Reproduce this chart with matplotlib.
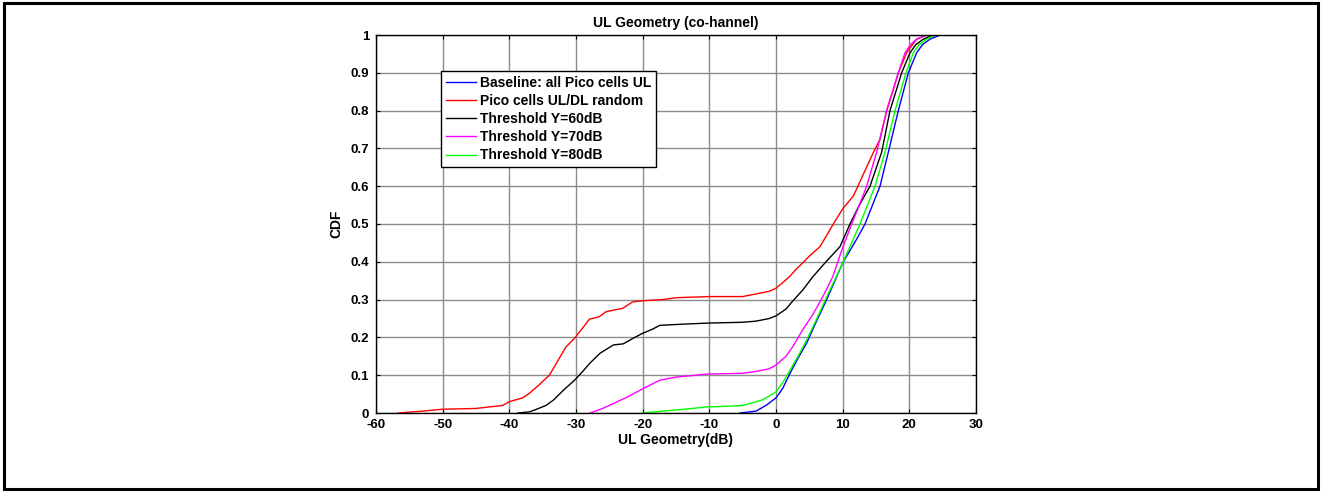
import matplotlib
matplotlib.use("Agg")
import matplotlib.pyplot as plt
from matplotlib.patches import Rectangle

plt.rcParams['font.family'] = ['Liberation Sans', 'DejaVu Sans']
plt.rcParams['font.weight'] = 'bold'
plt.rcParams['axes.unicode_minus'] = False

title = "UL Geometry (co-hannel)"
xlabel = "UL Geometry(dB)"
ylabel = "CDF"

labels = ["Baseline: all Pico cells UL", "Pico cells UL/DL random",
          "Threshold Y=60dB", "Threshold Y=70dB", "Threshold Y=80dB"]
colors = ["#0000ff", "#ff0000", "#000000", "#ff00ff", "#00ff00"]

blue_x = [-5.4, -3, -1.5, 0, 1, 2.1, 3.3, 4.6, 6, 7.6, 10, 12.1, 13.35, 15.6, 16.85, 18.35, 19.85, 21.1, 22, 23.1, 24.6]
blue_y = [0, 0.005, 0.02, 0.04, 0.065, 0.105, 0.145, 0.185, 0.24, 0.3, 0.397, 0.46, 0.5, 0.6, 0.69, 0.8, 0.9, 0.953, 0.975, 0.989, 1.0]

red_x = [-56.7, -53, -50, -45, -42.5, -41, -40, -38, -37, -35.5, -34, -33, -31.5, -30.2, -29, -28, -26.5, -25.5, -23, -21.5, -20, -17, -15, -10, -5, -3, -1, 0, 1, 2, 3, 4, 5, 6.6, 8.6, 10, 11.6, 12.8, 14.6, 15.6, 16.6, 17.5, 18.35, 19.6, 20.5, 21.1, 22.6]
red_y = [0, 0.005, 0.01, 0.012, 0.017, 0.02, 0.03, 0.04, 0.052, 0.075, 0.1, 0.13, 0.175, 0.198, 0.225, 0.248, 0.255, 0.268, 0.277, 0.294, 0.297, 0.30, 0.305, 0.308, 0.308, 0.315, 0.322, 0.33, 0.345, 0.36, 0.38, 0.397, 0.415, 0.44, 0.5, 0.54, 0.574, 0.62, 0.689, 0.724, 0.8, 0.85, 0.9, 0.953, 0.975, 0.989, 1.0]

t60_x = [-38.7, -37, -36.2, -34.5, -33.4, -31.9, -30.2, -29, -27.9, -26.4, -24.4, -22.9, -21.5, -20.1, -18.5, -17.4, -14, -10, -5, -3, -1, 0, 1.5, 2.5, 4, 5.5, 7.5, 9.6, 11.1, 12.5, 14.1, 15.85, 17.1, 18.85, 20.1, 21, 22.1, 23.6]
t60_y = [0, 0.003, 0.008, 0.02, 0.034, 0.06, 0.087, 0.11, 0.132, 0.158, 0.18, 0.183, 0.197, 0.21, 0.222, 0.232, 0.235, 0.238, 0.24, 0.243, 0.25, 0.257, 0.275, 0.296, 0.325, 0.36, 0.4, 0.44, 0.5, 0.55, 0.6, 0.69, 0.8, 0.9, 0.953, 0.975, 0.989, 1.0]

t70_x = [-27.9, -26, -24, -22, -20.1, -17.4, -15, -12, -10.4, -5, -3, -1, 0, 1.5, 2.5, 4, 5.5, 7, 8.5, 9.85, 11.35, 12.5, 13.6, 15.1, 16.6, 18.35, 19.35, 20.2, 21.1, 22.6]
t70_y = [0, 0.012, 0.028, 0.045, 0.063, 0.087, 0.095, 0.1, 0.103, 0.105, 0.11, 0.117, 0.127, 0.15, 0.175, 0.22, 0.26, 0.307, 0.36, 0.43, 0.5, 0.55, 0.6, 0.69, 0.8, 0.9, 0.953, 0.975, 0.989, 1.0]

t80_x = [-20, -17, -15, -12, -10.4, -7, -5, -3.75, -2, -1, 0, 1, 2.1, 3.3, 4.6, 6, 7.6, 10, 11.35, 12.6, 14.85, 16.35, 17.85, 19.5, 20.6, 21.5, 22.6, 23.85]
t80_y = [0, 0.005, 0.008, 0.013, 0.016, 0.018, 0.02, 0.026, 0.035, 0.045, 0.056, 0.08, 0.113, 0.15, 0.193, 0.245, 0.307, 0.397, 0.45, 0.5, 0.6, 0.69, 0.8, 0.9, 0.953, 0.975, 0.989, 1.0]

xticks = [-60, -50, -40, -30, -20, -10, 0, 10, 20, 30]
yticks = [0, 0.1, 0.2, 0.3, 0.4, 0.5, 0.6, 0.7, 0.8, 0.9, 1]
yticklabels = ["0", "0.1", "0.2", "0.3", "0.4", "0.5", "0.6", "0.7", "0.8", "0.9", "1"]

series = [(blue_x, blue_y), (red_x, red_y), (t60_x, t60_y), (t70_x, t70_y), (t80_x, t80_y)]

W, H = 1321, 492
fig = plt.figure(figsize=(W / 100, H / 100), dpi=100)
ax = fig.add_axes([376 / W, 1 - 413 / H, 600 / W, 378 / H])

for (xs, ys), c, lab in zip(series, colors, labels):
    ax.plot(xs, ys, color=c, lw=1.0, label=lab)

ax.set_xlim(-60, 30)
ax.set_ylim(0, 1)
ax.set_xticks(xticks)
ax.set_yticks(yticks)
ax.set_yticklabels(yticklabels)
ax.grid(True, color='#8c8c8c', lw=1.0, linestyle='-')
ax.set_axisbelow(True)
ax.tick_params(direction='in', top=True, right=True, length=3, labelsize=9.5)
ax.tick_params(axis='x', pad=4)
ax.tick_params(axis='y', pad=5)
for lab in ax.get_xticklabels() + ax.get_yticklabels():
    lab.set_fontweight('bold')
for s in ax.spines.values():
    s.set_linewidth(1.0)

ax.set_title(title, fontsize=10, fontweight='bold', pad=6)
ax.set_xlabel(xlabel, fontsize=10, fontweight='bold', labelpad=1.5)
ax.set_ylabel(ylabel, fontsize=10, fontweight='bold', labelpad=5)

leg = ax.legend(loc='upper left', bbox_to_anchor=(0.108, 0.905), fontsize=10,
                frameon=True, fancybox=False, edgecolor='black', framealpha=1,
                handlelength=2.2, handletextpad=0.3, borderpad=0.35, labelspacing=0.3,
                borderaxespad=0)
leg.get_frame().set_linewidth(1.0)
for t in leg.get_texts():
    t.set_fontweight('bold')

fig.patches.append(Rectangle((4 / W, 3 / H), (1318 - 4) / W, (489 - 3) / H,
                             transform=fig.transFigure, fill=False,
                             edgecolor='black', lw=2.2))

fig.savefig("out.png", dpi=100)
